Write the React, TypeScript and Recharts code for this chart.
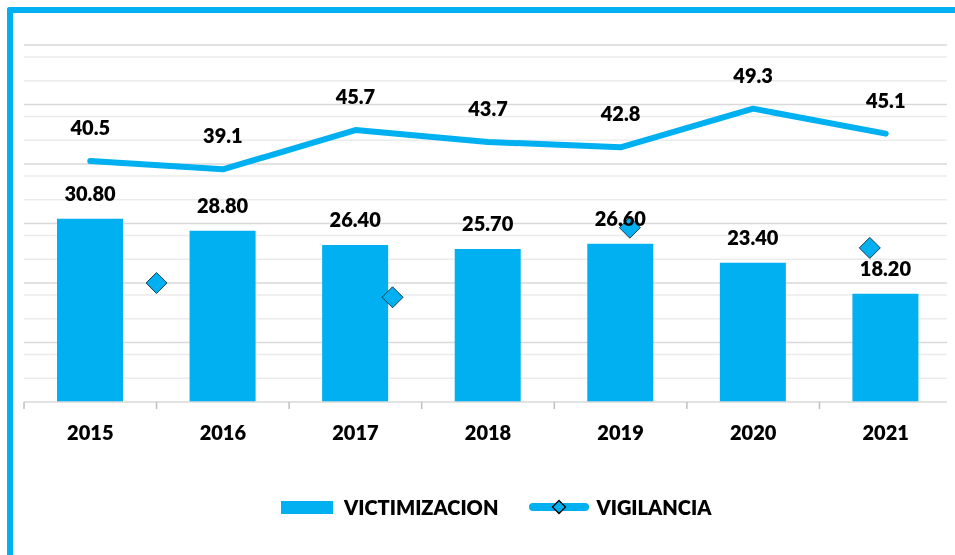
import {
  ComposedChart,
  Bar,
  Line,
  Scatter,
  XAxis,
  YAxis,
  CartesianGrid,
  LabelList,
} from "recharts";

const years = ["2015", "2016", "2017", "2018", "2019", "2020", "2021"];
const victimizacion = [30.8, 28.8, 26.4, 25.7, 26.6, 23.4, 18.2];
const vigilancia = [40.5, 39.1, 45.7, 43.7, 42.8, 49.3, 45.1];

// stray diamond markers, position in category units (0 = 2015)
const markerPos = [0.5, 2.28, 4.07, 5.88];
const markerVal = [20.0, 17.6, 29.3, 25.9];

const majorTicks = [10, 20, 30, 40, 50, 60];
const minorTicks = [2, 4, 6, 8, 12, 14, 16, 18, 22, 24, 26, 28, 32, 34, 36, 38, 42, 44, 46, 48, 52, 54, 56, 58];

const BLUE = "#00B0F0";
const FONT = "Lato, 'Open Sans', sans-serif";
const WEIGHT = 800;

const W = 944;
const H = 539;
const M = { top: 37, right: 0, left: 16, bottom: 105 };
const BAND = (W - M.left - M.right) / years.length;

const data = years.map((year, i) => ({
  year,
  victimizacion: victimizacion[i],
  vigilancia: vigilancia[i],
}));

const markers = markerPos.map((x, i) => ({ x, y: markerVal[i] }));

const YearTick = (props: any) => {
  const { x, y, payload, index } = props;
  const left = x - BAND / 2;
  return (
    <g>
      <line x1={left} x2={left} y1={y} y2={y + 7} stroke="#BFBFBF" strokeWidth={1.5} />
      {index === years.length - 1 && (
        <line x1={x + BAND / 2} x2={x + BAND / 2} y1={y} y2={y + 7} stroke="#BFBFBF" strokeWidth={1.5} />
      )}
      <text x={x} y={y + 38} textAnchor="middle" fontFamily={FONT} fontWeight={WEIGHT} fontSize={20} fill="#000">
        {payload.value}
      </text>
    </g>
  );
};

const Diamond = (props: any) => {
  const { cx, cy } = props;
  const r = 10.5;
  return (
    <polygon
      points={`${cx},${cy - r} ${cx + r},${cy} ${cx},${cy + r} ${cx - r},${cy}`}
      fill={BLUE}
      stroke="#1F3B4D"
      strokeWidth={1}
    />
  );
};

const labelStyle = { fill: "#000", fontFamily: FONT, fontWeight: WEIGHT, fontSize: 20 };

export default function App() {
  return (
    <div style={{ position: "relative", width: W, height: H }}>
      {/* blue frame, fixed so it can run off the page edge without scrollbars */}
      <div
        style={{
          position: "fixed",
          left: 7,
          top: 7,
          width: 960,
          height: 560,
          borderTop: `6px solid ${BLUE}`,
          borderLeft: `6px solid ${BLUE}`,
          borderTopLeftRadius: 3,
          boxSizing: "border-box",
        }}
      />
      <ComposedChart width={W} height={H} data={data} margin={M}>
        <CartesianGrid vertical={false} horizontalValues={minorTicks} stroke="#EBEBEB" strokeWidth={1.5} />
        <CartesianGrid vertical={false} horizontalValues={majorTicks} stroke="#D9D9D9" strokeWidth={1.5} />
        <XAxis
          dataKey="year"
          height={40}
          tickSize={0}
          tickMargin={0}
          tickLine={false}
          axisLine={{ stroke: "#D9D9D9", strokeWidth: 1.5 }}
          tick={<YearTick />}
          interval={0}
        />
        <XAxis xAxisId="pos" type="number" dataKey="x" domain={[-0.5, 6.5]} allowDataOverflow hide />
        <YAxis domain={[0, 60]} hide />
        <Bar dataKey="victimizacion" fill={BLUE} barSize={66} isAnimationActive={false}>
          <LabelList
            dataKey="victimizacion"
            position="top"
            offset={18}
            formatter={(v: any) => Number(v).toFixed(2)}
            style={labelStyle}
          />
        </Bar>
        <Line
          type="linear"
          dataKey="vigilancia"
          stroke={BLUE}
          strokeWidth={6}
          strokeLinecap="round"
          strokeLinejoin="round"
          dot={false}
          activeDot={false}
          isAnimationActive={false}
        >
          <LabelList
            dataKey="vigilancia"
            position="top"
            offset={26}
            formatter={(v: any) => Number(v).toFixed(1)}
            style={labelStyle}
          />
        </Line>
        <Scatter xAxisId="pos" data={markers} dataKey="y" shape={<Diamond />} isAnimationActive={false} />
      </ComposedChart>
      <div
        style={{
          position: "absolute",
          top: 487,
          left: 273,
          display: "flex",
          alignItems: "center",
          fontFamily: FONT,
          fontWeight: WEIGHT,
          fontSize: 20,
          lineHeight: "24px",
          color: "#000",
        }}
      >
        <svg width={52} height={13} style={{ display: "block" }}>
          <rect x={0} y={0} width={52} height={13} fill={BLUE} />
        </svg>
        <span style={{ marginLeft: 11 }}>VICTIMIZACION</span>
        <svg width={60} height={16} style={{ display: "block", marginLeft: 31 }}>
          <line x1={4} x2={56} y1={8} y2={8} stroke={BLUE} strokeWidth={8} strokeLinecap="round" />
          <polygon points="30,1.5 36.5,8 30,14.5 23.5,8" fill={BLUE} stroke="#000" strokeWidth={1.3} />
        </svg>
        <span style={{ marginLeft: 7 }}>VIGILANCIA</span>
      </div>
    </div>
  );
}
